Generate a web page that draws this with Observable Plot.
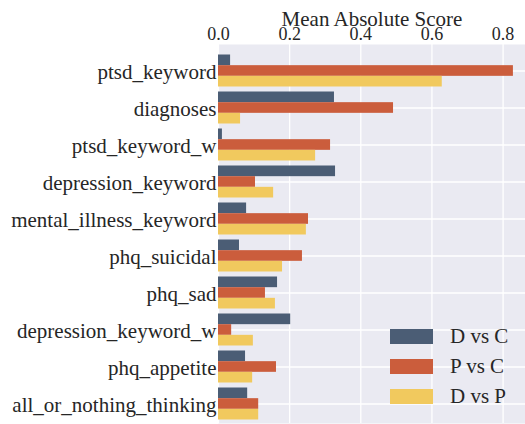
<!DOCTYPE html>
<html>
<head>
<meta charset="utf-8">
<script src="https://cdn.jsdelivr.net/npm/d3@7"></script>
<script src="https://cdn.jsdelivr.net/npm/@observablehq/plot@0.6"></script>
<style>
  body { margin: 0; padding: 0; position: relative; font-family: "Liberation Serif", serif; color: #262626; background: #fff; }
  .legend { position: absolute; left: 390px; top: 321px; }
  .row { display: flex; align-items: center; height: 30px; }
  .sw { width: 43px; height: 15px; margin-right: 17px; }
  .lab { font-size: 21px; line-height: 21px; }
</style>
</head>
<body>
<script>
const categories = ["ptsd_keyword", "diagnoses", "ptsd_keyword_w", "depression_keyword", "mental_illness_keyword", "phq_suicidal", "phq_sad", "depression_keyword_w", "phq_appetite", "all_or_nothing_thinking"];
const seriesNames = ["D vs C", "P vs C", "D vs P"];
const seriesColors = ["#4b5d75", "#cb5d3c", "#f1c95e"];
const dVsC = [0.034, 0.326, 0.011, 0.329, 0.079, 0.059, 0.166, 0.203, 0.076, 0.082];
const pVsC = [0.829, 0.492, 0.315, 0.104, 0.253, 0.236, 0.132, 0.037, 0.163, 0.113];
const dVsP = [0.629, 0.062, 0.273, 0.155, 0.247, 0.180, 0.160, 0.098, 0.096, 0.113];
const xTicks = [0, 0.2, 0.4, 0.6, 0.8];
const xLabel = "Mean Absolute Score";

const seriesValues = [dVsC, pVsC, dVsP];
const data = seriesNames.flatMap((s, si) => categories.map((c, ci) => ({feature: c, series: s, value: seriesValues[si][ci]})));

const band = 37, outer = 2.5, bar = (band - 2 * outer) / 3;
const barMarks = seriesNames.map((s, i) => Plot.barX(data.filter(d => d.series === s), {
  x: "value", y: "feature", fill: "series",
  insetTop: outer + i * bar, insetBottom: outer + (2 - i) * bar
}));

const chart = Plot.plot({
  width: 525, height: 424,
  marginLeft: 218, marginRight: 0, marginTop: 44, marginBottom: 1,
  style: {fontFamily: "Liberation Serif", color: "#262626", background: "transparent"},
  x: {domain: [0, 0.863]},
  y: {domain: categories, range: [51.5, 421.5], padding: 0},
  color: {domain: seriesNames, range: seriesColors},
  marks: [
    Plot.frame({fill: "#eaeaf2", stroke: null}),
    Plot.gridX(xTicks, {stroke: "#fff", strokeOpacity: 1, strokeWidth: 1.3}),
    Plot.gridY({stroke: "#fff", strokeOpacity: 1, strokeWidth: 1.3}),
    ...barMarks,
    Plot.axisX({anchor: "top", ticks: xTicks, tickSize: 0, tickPadding: 4.7, tickFormat: d3.format(".1f"), fontSize: 18, label: null}),
    Plot.axisY({tickSize: 0, tickPadding: 2, fontSize: 21, dy: 1, label: null}),
    Plot.text([xLabel], {text: d => d, frameAnchor: "top", lineAnchor: "bottom", dy: -18.5, fontSize: 21})
  ]
});
document.body.appendChild(chart);

const legend = document.createElement("div");
legend.className = "legend";
seriesNames.forEach((s, i) => {
  const row = document.createElement("div");
  row.className = "row";
  const sw = document.createElement("div");
  sw.className = "sw";
  sw.style.background = seriesColors[i];
  const lab = document.createElement("span");
  lab.className = "lab";
  lab.textContent = s;
  row.appendChild(sw); row.appendChild(lab);
  legend.appendChild(row);
});
document.body.appendChild(legend);
</script>
</body>
</html>
